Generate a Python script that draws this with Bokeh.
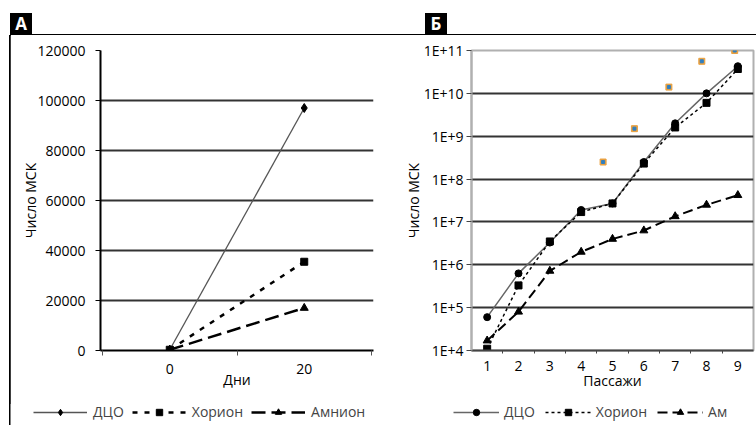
from bokeh.plotting import figure
from bokeh.layouts import row, column
from bokeh.models import FixedTicker, Legend, LegendItem, Range1d, Div, NumeralTickFormatter
from bokeh.embed import file_html
from bokeh.resources import INLINE

# ---------- data panel A ----------
days = [0, 20]
dco_a = [300, 97000]
chorion_a = [300, 35500]
amnion_a = [300, 17000]
y_ticks_a = [0, 20000, 40000, 60000, 80000, 100000, 120000]

# ---------- data panel B ----------
passages = [1, 2, 3, 4, 5, 6, 7, 8, 9]
dco_b = [6.0e4, 6.3e5, 3.3e6, 1.9e7, 2.7e7, 2.5e8, 2.0e9, 1.0e10, 4.3e10]
chorion_b = [1.1e4, 3.3e5, 3.5e6, 1.7e7, 2.7e7, 2.3e8, 1.6e9, 6.0e9, 3.7e10]
amnion_b = [1.7e4, 8.0e4, 7.2e5, 2.0e6, 4.0e6, 6.3e6, 1.35e7, 2.5e7, 4.2e7]
extra_x = [4.7, 5.7, 6.8, 7.85, 8.9]
extra_b = [2.5e8, 1.5e9, 1.4e10, 5.6e10, 1.0e11]
y_ticks_b = [10**4, 10**5, 10**6, 10**7, 10**8, 10**9, 10**10, 10**11]
y_tick_labels_b = ["1E+4", "1E+5", "1E+6", "1E+7", "1E+8", "1E+9", "1E+10", "1E+11"]

panel_letters = ["А", "Б"]
legend_a = ["ДЦО", "Хорион", "Амнион"]
legend_b = ["ДЦО", "Хорион", "Ам"]

FONT = "Open Sans"
FS = "14px"
PH = 368   # plot row height (35 px header above, legend strip below)
LH = 425 - 35 - PH

# series styles: (line colour, width, dash, marker, marker size)
STY_A = [("#555555", 1.3, "solid", "diamond", 9),
         ("black", 2.5, "5 7", "square", 7),
         ("black", 2.5, "14 6", "triangle", 8)]
STY_B = [("#666666", 1.5, "solid", "circle", 7),
         ("black", 1.5, "3 3", "square", 7),
         ("black", 2.0, "10 5", "triangle", 8)]


def style_axes(p):
    for ax in (p.xaxis[0], p.yaxis[0]):
        ax.major_label_text_font = FONT
        ax.major_label_text_font_size = FS
        ax.major_label_text_color = "black"
        ax.axis_label_text_font = FONT
        ax.axis_label_text_font_size = FS
        ax.axis_label_text_font_style = "normal"
        ax.axis_label_text_color = "black"


def draw_series(p, xs, ys, sty):
    c, w, d, m, s = sty
    r1 = p.line(xs, ys, line_color=c, line_width=w, line_dash=d)
    r2 = p.scatter(xs, ys, marker=m, size=s, color="black")
    return r1, r2


# ================= Panel A =================
pA = figure(width=370, height=PH, output_backend="svg", toolbar_location=None,
            x_range=Range1d(-10.3, 30.3), y_range=Range1d(0, 120000),
            min_border_left=90, min_border_right=7, min_border_top=15, min_border_bottom=PH - 315)
pA.outline_line_color = None
pA.xgrid.visible = False
pA.ygrid.ticker = FixedTicker(ticks=[20000, 40000, 60000, 80000, 100000])
pA.ygrid.grid_line_color = "#333333"
pA.ygrid.grid_line_width = 2

pA.yaxis.ticker = FixedTicker(ticks=y_ticks_a)
pA.yaxis.formatter = NumeralTickFormatter(format="0")
pA.yaxis.axis_label = "Число МСК"
pA.yaxis.axis_line_width = 2
pA.yaxis.axis_line_color = "black"
pA.yaxis.major_tick_out = 5
pA.yaxis.major_tick_in = 0
pA.yaxis.minor_tick_line_color = None
pA.yaxis.major_label_standoff = 10
pA.yaxis.axis_label_standoff = -6

pA.xaxis.ticker = FixedTicker(ticks=days, minor_ticks=[-10, 10, 30])
pA.xaxis.axis_label = "Дни"
pA.xaxis.axis_line_width = 2
pA.xaxis.axis_line_color = "black"
pA.xaxis.major_tick_out = 0
pA.xaxis.major_tick_in = 0
pA.xaxis.minor_tick_out = 5
pA.xaxis.minor_tick_in = 0
pA.xaxis.minor_tick_line_color = "#555555"
pA.xaxis.major_label_standoff = 8
pA.xaxis.axis_label_standoff = -7
style_axes(pA)

for ys, sty in zip([dco_a, chorion_a, amnion_a], STY_A):
    draw_series(pA, days, ys, sty)

# ================= Panel B =================
pB = figure(width=376, height=PH, output_backend="svg", toolbar_location=None,
            x_range=Range1d(0.5, 9.5), y_range=Range1d(1e4, 1e11), y_axis_type="log",
            min_border_left=91, min_border_right=3, min_border_top=12, min_border_bottom=43)
pB.outline_line_color = "#b0b0b0"
pB.outline_line_width = 2
pB.xgrid.visible = False
pB.ygrid.ticker = FixedTicker(ticks=y_ticks_b[1:-1])
pB.ygrid.grid_line_color = "#333333"
pB.ygrid.grid_line_width = 2

pB.yaxis.ticker = FixedTicker(ticks=y_ticks_b)
pB.yaxis.major_label_overrides = dict(zip(y_ticks_b, y_tick_labels_b))
pB.yaxis.axis_label = "Число МСК"
pB.yaxis.axis_line_width = 2
pB.yaxis.axis_line_color = "#b0b0b0"
pB.yaxis.major_tick_out = 5
pB.yaxis.major_tick_in = 0
pB.yaxis.major_tick_line_color = "#444444"
pB.yaxis.minor_tick_line_color = None
pB.yaxis.major_label_standoff = 3
pB.yaxis.axis_label_standoff = -2

pB.xaxis.ticker = FixedTicker(ticks=passages, minor_ticks=[x + 0.5 for x in passages[:-1]])
pB.xaxis.axis_label = "Пассажи"
pB.xaxis.axis_line_width = 2
pB.xaxis.axis_line_color = "#444444"
pB.xaxis.major_tick_out = 0
pB.xaxis.major_tick_in = 0
pB.xaxis.minor_tick_out = 3
pB.xaxis.minor_tick_in = 0
pB.xaxis.minor_tick_line_color = "#444444"
pB.xaxis.major_label_standoff = 7
pB.xaxis.axis_label_standoff = -3
style_axes(pB)

for ys, sty in zip([dco_b, chorion_b, amnion_b], STY_B):
    draw_series(pB, passages, ys, sty)
pB.scatter(extra_x, extra_b, marker="square", size=6, color="#e8a040")
pB.scatter(extra_x, extra_b, marker="square", size=3, color="#2f7fc1")

# ================= legend strip (one figure, whole width) =================
legf = figure(width=746, height=LH, output_backend="svg", toolbar_location=None,
              x_range=Range1d(1000, 1001), y_range=Range1d(0, 1),
              x_axis_location=None, y_axis_location=None,
              min_border_left=0, min_border_right=0, min_border_top=0, min_border_bottom=0)
legf.grid.visible = False
legf.outline_line_color = None


def make_legend(labels, styles, xs, loc, glyph_w, spacing, standoff):
    items = []
    for lab, sty in zip(labels, styles):
        r1, r2 = draw_series(legf, xs, [0.5] * len(xs), sty)  # lies outside the strip's x range
        items.append(LegendItem(label=lab, renderers=[r1, r2]))
    legf.add_layout(Legend(items=items, orientation="horizontal", location=loc, padding=0, margin=0,
                           spacing=spacing, glyph_width=glyph_w, glyph_height=16, label_height=16,
                           label_standoff=standoff, label_text_font=FONT, label_text_font_size=FS,
                           background_fill_alpha=0, border_line_color=None))


make_legend(legend_a, STY_A, days, (23, 4), 54, 8, 6)
make_legend(legend_b, STY_B, passages, (443, 4), 46, 10, 5)

# ================= header and frame rules =================
box_css = ("position:absolute;top:13px;width:22px;height:22px;background:#000;color:#fff;"
           "font-family:'Open Sans';font-weight:bold;font-size:17px;line-height:22px;text-align:center;")
header_html = (
    '<div style="position:relative;width:756px;height:35px;margin:0;padding:0;">'
    '<div style="position:absolute;left:10px;top:33.5px;width:746px;height:1.6px;background:#000;"></div>'
    f'<div style="{box_css}left:10px;">{panel_letters[0]}</div>'
    f'<div style="{box_css}left:425px;">{panel_letters[1]}</div>'
    '</div>'
)
header = Div(text=header_html, width=756, height=35, margin=0)


def vrule(h):
    return Div(text=f'<div style="position:relative;width:10px;height:{h}px;">'
                    f'<div style="position:absolute;left:9.2px;top:0;width:1.6px;height:{h}px;background:#000;"></div></div>',
               width=10, height=h, margin=0)


layout = column(header,
                row(vrule(PH), pA, pB, spacing=0),
                row(vrule(LH), legf, spacing=0),
                spacing=0)
open("out.html", "w").write(file_html(layout, INLINE))
